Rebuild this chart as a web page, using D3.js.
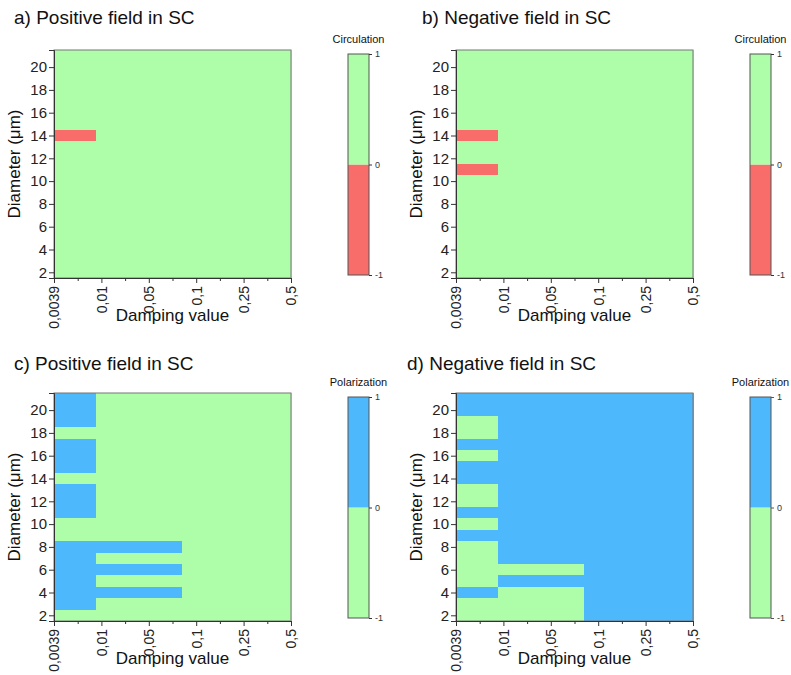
<!DOCTYPE html>
<html>
<head>
<meta charset="utf-8">
<script src="https://cdnjs.cloudflare.com/ajax/libs/d3/7.8.5/d3.min.js"></script>
<style>
  body { margin: 0; background: #fff; }
  text { font-family: "Liberation Sans", Arial, sans-serif; }
</style>
</head>
<body>
<div id="chart"></div>
<script>
// damping values (x categories), diameters (rows, top to bottom)
var dampingLabels = ["0,0039", "0,01", "0,05", "0,1", "0,25", "0,5"]
var colEdges = [0, 0.88, 1.79, 2.7, 3.6, 4.5, 5]   // cell borders, in tick index units
var diameters = [21, 20, 19, 18, 17, 16, 15, 14, 13, 12, 11, 10, 9, 8, 7, 6, 5, 4, 3, 2]
var diameterTicks = [2, 4, 6, 8, 10, 12, 14, 16, 18, 20]
var legendTicks = [-1, 0, 1]

// one row per diameter, one value per damping column
var circPositive = [
  [1,1,1,1,1,1], [1,1,1,1,1,1], [1,1,1,1,1,1], [1,1,1,1,1,1], [1,1,1,1,1,1],
  [1,1,1,1,1,1], [1,1,1,1,1,1], [-1,1,1,1,1,1], [1,1,1,1,1,1], [1,1,1,1,1,1],
  [1,1,1,1,1,1], [1,1,1,1,1,1], [1,1,1,1,1,1], [1,1,1,1,1,1], [1,1,1,1,1,1],
  [1,1,1,1,1,1], [1,1,1,1,1,1], [1,1,1,1,1,1], [1,1,1,1,1,1], [1,1,1,1,1,1]
]
var circNegative = [
  [1,1,1,1,1,1], [1,1,1,1,1,1], [1,1,1,1,1,1], [1,1,1,1,1,1], [1,1,1,1,1,1],
  [1,1,1,1,1,1], [1,1,1,1,1,1], [-1,1,1,1,1,1], [1,1,1,1,1,1], [1,1,1,1,1,1],
  [-1,1,1,1,1,1], [1,1,1,1,1,1], [1,1,1,1,1,1], [1,1,1,1,1,1], [1,1,1,1,1,1],
  [1,1,1,1,1,1], [1,1,1,1,1,1], [1,1,1,1,1,1], [1,1,1,1,1,1], [1,1,1,1,1,1]
]
var polPositive = [
  [1,-1,-1,-1,-1,-1], [1,-1,-1,-1,-1,-1], [1,-1,-1,-1,-1,-1], [-1,-1,-1,-1,-1,-1],
  [1,-1,-1,-1,-1,-1], [1,-1,-1,-1,-1,-1], [1,-1,-1,-1,-1,-1], [-1,-1,-1,-1,-1,-1],
  [1,-1,-1,-1,-1,-1], [1,-1,-1,-1,-1,-1], [1,-1,-1,-1,-1,-1], [-1,-1,-1,-1,-1,-1],
  [-1,-1,-1,-1,-1,-1], [1,1,1,-1,-1,-1], [1,-1,-1,-1,-1,-1], [1,1,1,-1,-1,-1],
  [1,-1,-1,-1,-1,-1], [1,1,1,-1,-1,-1], [1,-1,-1,-1,-1,-1], [-1,-1,-1,-1,-1,-1]
]
var polNegative = [
  [1,1,1,1,1,1], [1,1,1,1,1,1], [-1,1,1,1,1,1], [-1,1,1,1,1,1], [1,1,1,1,1,1],
  [-1,1,1,1,1,1], [1,1,1,1,1,1], [1,1,1,1,1,1], [-1,1,1,1,1,1], [-1,1,1,1,1,1],
  [1,1,1,1,1,1], [-1,1,1,1,1,1], [1,1,1,1,1,1], [-1,1,1,1,1,1], [-1,1,1,1,1,1],
  [-1,-1,-1,1,1,1], [-1,1,1,1,1,1], [1,-1,-1,1,1,1], [-1,-1,-1,1,1,1], [-1,-1,-1,1,1,1]
]

var green = "#aefda8"
var red = "#f86c6a"
var blue = "#4eb8fd"
var axisColor = "#333"

var width = 791, height = 675
var svg = d3.select("#chart").append("svg")
  .attr("width", width)
  .attr("height", height)

var panels = [
  {title: "a) Positive field in SC", tx: 14, ty: 24, left: 54, top: 50, legend: "Circulation", lx: 348, data: circPositive, neg: red, pos: green},
  {title: "b) Negative field in SC", tx: 422, ty: 24, left: 456, top: 50, legend: "Circulation", lx: 750, data: circNegative, neg: red, pos: green},
  {title: "c) Positive field in SC", tx: 14, ty: 370, left: 54, top: 393, legend: "Polarization", lx: 348, data: polPositive, neg: green, pos: blue},
  {title: "d) Negative field in SC", tx: 407, ty: 370, left: 456, top: 393, legend: "Polarization", lx: 750, data: polNegative, neg: green, pos: blue}
]

var plotW = 237, plotH = 228
var barW = 21, barInset = 4

panels.forEach(function(p) {
  var g = svg.append("g")

  g.append("text")
    .attr("x", p.tx).attr("y", p.ty)
    .attr("font-size", 19)
    .attr("fill", "#111")
    .text(p.title)

  var x = d3.scaleLinear().domain([0, 5]).range([p.left, p.left + plotW])
  var y = d3.scaleLinear().domain([1.5, 21.5]).range([p.top + plotH, p.top])
  var color = d3.scaleThreshold().domain([0]).range([p.neg, p.pos])

  var cells = []
  p.data.forEach(function(row, i) {
    row.forEach(function(v, j) {
      cells.push({d: diameters[i], c: j, v: v})
    })
  })

  g.append("g").selectAll("rect")
    .data(cells)
    .enter().append("rect")
      .attr("x", function(d) { return x(colEdges[d.c]) })
      .attr("y", function(d) { return y(d.d + 0.5) })
      .attr("width", function(d) { return x(colEdges[d.c + 1]) - x(colEdges[d.c]) + 0.5 })
      .attr("height", function(d) { return y(d.d - 0.5) - y(d.d + 0.5) + 0.5 })
      .attr("fill", function(d) { return color(d.v) })
      .attr("shape-rendering", "crispEdges")

  // frame
  g.append("rect")
    .attr("x", p.left).attr("y", p.top)
    .attr("width", plotW).attr("height", plotH)
    .attr("fill", "none")
    .attr("stroke", "#777")

  var yAxis = g.append("g")
    .attr("transform", "translate(" + p.left + ",0)")
    .call(d3.axisLeft(y).tickValues(diameterTicks).tickSize(5).tickPadding(2))
  yAxis.selectAll("text").attr("font-size", 15).attr("fill", "#222")

  var xAxis = g.append("g")
    .attr("transform", "translate(0," + (p.top + plotH) + ")")
    .call(d3.axisBottom(x).tickValues([0, 1, 2, 3, 4, 5])
      .tickFormat(function(i) { return dampingLabels[i] })
      .tickSize(5).tickPadding(3))
  xAxis.selectAll("text")
    .attr("font-size", 14)
    .attr("fill", "#222")
    .attr("transform", "rotate(-90)")
    .attr("text-anchor", "end")
    .attr("x", -8).attr("y", 0).attr("dy", "0.35em")

  g.append("g")
    .attr("transform", "translate(0," + (p.top + plotH) + ")")
    .call(d3.axisBottom(x).tickValues([0.5, 1.5, 2.5, 3.5, 4.5]).tickFormat("").tickSize(3))
    .select(".domain").remove()

  svg.selectAll(".domain").attr("stroke", axisColor)
  svg.selectAll(".tick line").attr("stroke", axisColor)

  g.append("text")
    .attr("x", p.left + plotW / 2).attr("y", p.top + plotH + 43)
    .attr("text-anchor", "middle")
    .attr("font-size", 17)
    .attr("fill", "#111")
    .text("Damping value")

  g.append("text")
    .attr("transform", "translate(" + (p.left - 34) + "," + (p.top + plotH / 2) + ") rotate(-90)")
    .attr("text-anchor", "middle")
    .attr("font-size", 17)
    .attr("fill", "#111")
    .text("Diameter (\u03bcm)")

  // colour legend
  var ly = d3.scaleLinear().domain([-1, 1]).range([p.top + plotH - barInset + 1, p.top + barInset])
  var lg = g.append("g")
  lg.selectAll("rect")
    .data([[-1, 0], [0, 1]])
    .enter().append("rect")
      .attr("x", p.lx)
      .attr("y", function(d) { return ly(d[1]) })
      .attr("width", barW)
      .attr("height", function(d) { return ly(d[0]) - ly(d[1]) })
      .attr("fill", function(d) { return color(d[1] > 0 ? 1 : -1) })
  lg.append("rect")
    .attr("x", p.lx).attr("y", ly(1))
    .attr("width", barW).attr("height", ly(-1) - ly(1))
    .attr("fill", "none").attr("stroke", "#555")

  var la = lg.append("g")
    .attr("transform", "translate(" + (p.lx + barW) + ",0)")
    .call(d3.axisRight(ly).tickValues(legendTicks).tickFormat(String).tickSize(3).tickPadding(3))
  la.select(".domain").remove()
  la.selectAll("text").attr("font-size", 9).attr("fill", "#333")
  la.selectAll("line").attr("stroke", "#555")

  lg.append("text")
    .attr("x", p.lx + barW / 2).attr("y", ly(1) - 11)
    .attr("text-anchor", "middle")
    .attr("font-size", 11)
    .attr("fill", "#111")
    .text(p.legend)
})
</script>
</body>
</html>
